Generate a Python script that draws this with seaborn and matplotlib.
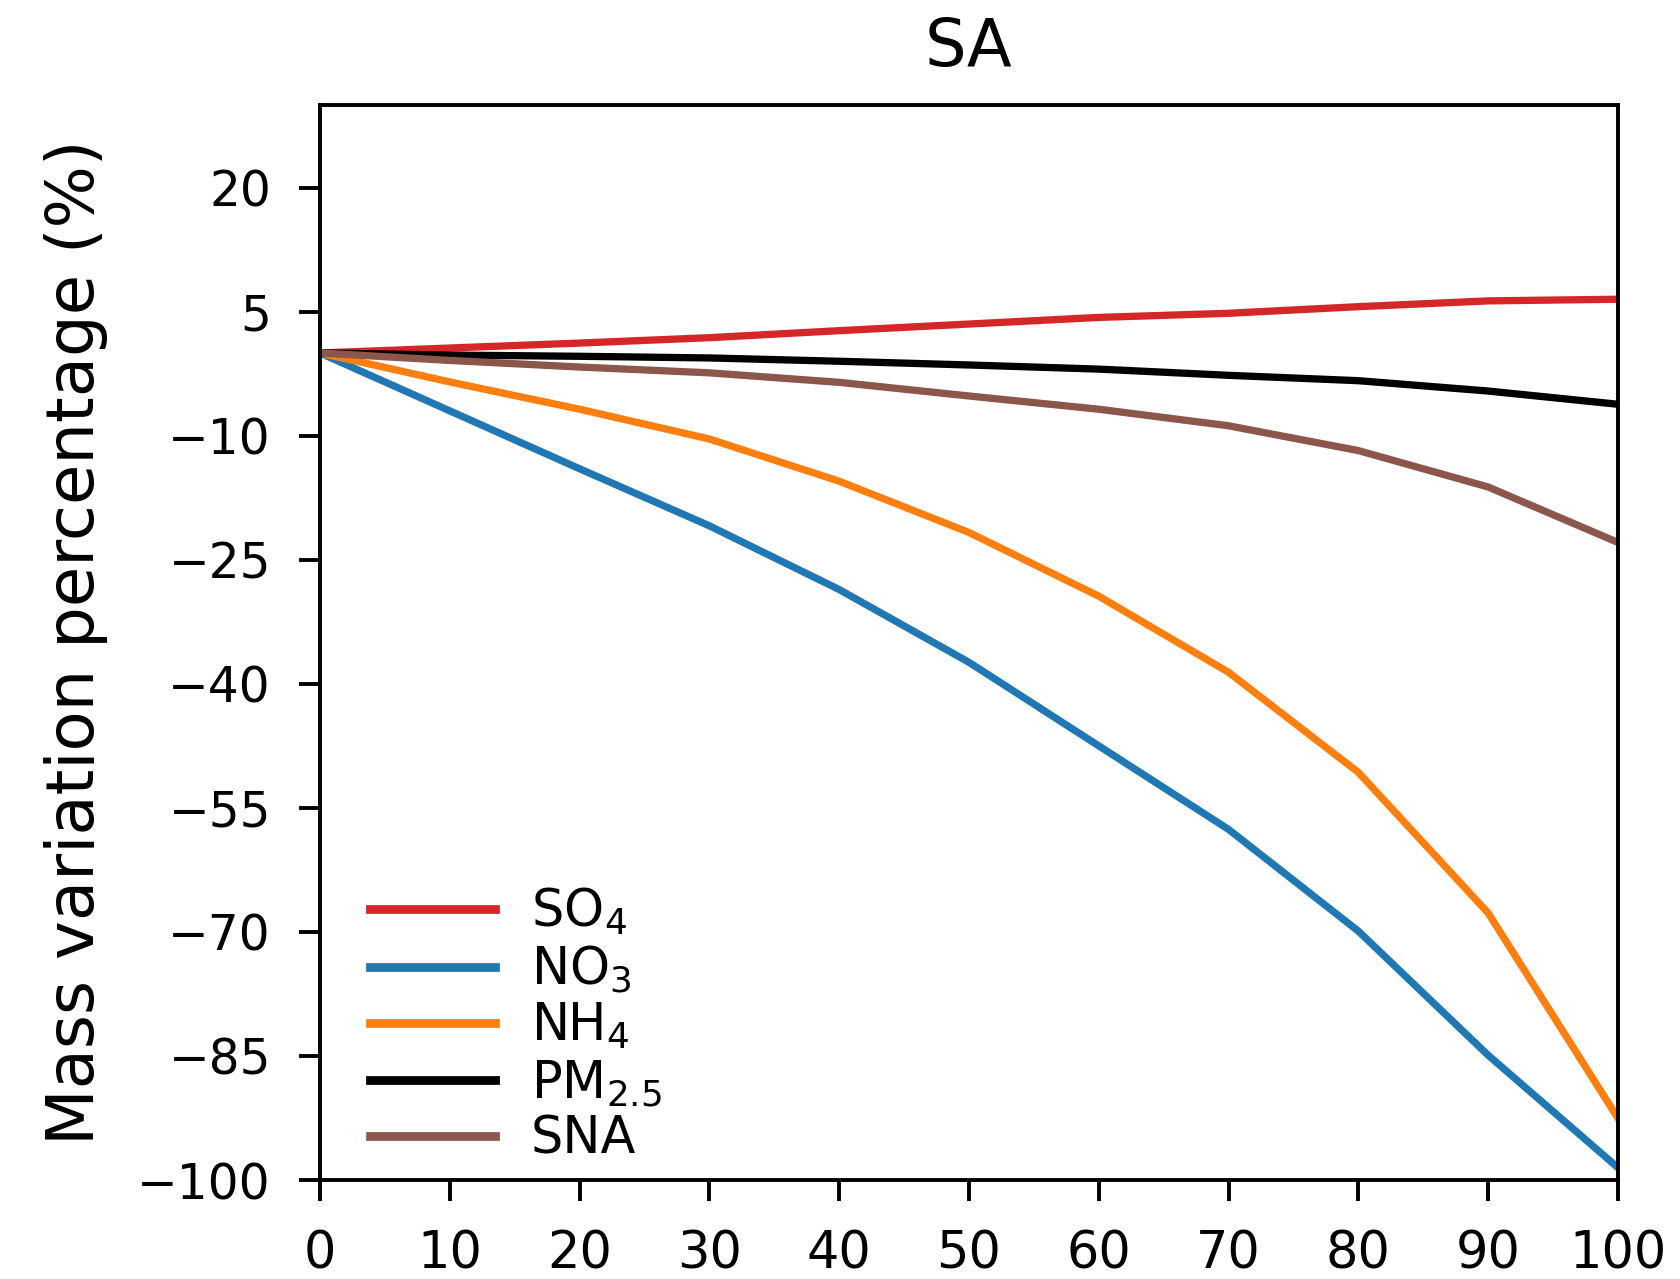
import numpy as np
import pandas as pd
import matplotlib
matplotlib.use("Agg")
import matplotlib.pyplot as plt
import seaborn as sns

# ---- data ----
reduction = [0, 10, 20, 30, 40, 50, 60, 70, 80, 90, 100]
so4 = [0, 0.6, 1.2, 1.85, 2.7, 3.5, 4.3, 4.8, 5.6, 6.3, 6.5]
no3 = [0, -7.0, -14.0, -20.9, -28.6, -37.4, -47.5, -57.6, -69.9, -84.9, -98.5]
nh4 = [0, -3.5, -6.8, -10.4, -15.5, -21.7, -29.4, -38.6, -50.7, -67.7, -92.5]
pm25 = [0, -0.25, -0.4, -0.6, -1.0, -1.45, -1.95, -2.7, -3.35, -4.6, -6.2]
sna = [0, -0.9, -1.7, -2.4, -3.55, -5.2, -6.8, -8.8, -11.8, -16.2, -22.9]

series_names = ["SO$_4$", "NO$_3$", "NH$_4$", "PM$_{2.5}$", "SNA"]
series_values = [so4, no3, nh4, pm25, sna]
colors = ["#d62728", "#1f77b4", "#ff7f0e", "#000000", "#8c564b"]
yticks = [20, 5, -10, -25, -40, -55, -70, -85, -100]
xticks = [0, 10, 20, 30, 40, 50, 60, 70, 80, 90, 100]

df = pd.concat(
    [pd.DataFrame({"x": reduction, "y": v, "species": n})
     for n, v in zip(series_names, series_values)],
    ignore_index=True,
)

plt.rcParams["font.family"] = ["DejaVu Sans"]
plt.rcParams["mathtext.default"] = "regular"

fig = plt.figure(figsize=(4.8, 1279 / 350), dpi=350)
ax = fig.add_axes([0.1905, 0.0774, 0.963 - 0.1905, 0.918 - 0.0774])

sns.lineplot(data=df, x="x", y="y", hue="species", hue_order=series_names,
             palette=colors, linewidth=1.5, ax=ax, sort=False)

ax.set_xlim(0, 100)
ax.set_ylim(-100, 30)
ax.set_xticks(xticks)
ax.set_yticks(yticks)
ax.tick_params(axis="both", width=0.8, length=4.3, pad=5.8)
ax.tick_params(axis="x", labelsize=10.5)
ax.tick_params(axis="y", labelsize=10)
for s in ax.spines.values():
    s.set_linewidth(0.8)
ax.set_xlabel("")
ax.set_ylabel("Mass variation percentage (%)", fontsize=13.5, labelpad=6)
ax.set_title("SA", fontsize=13.5, pad=8)

leg = ax.legend(loc="lower left", bbox_to_anchor=(0.023, -0.005),
                borderaxespad=0, frameon=False, fontsize=10.5,
                handlelength=2.45, handletextpad=0.7, labelspacing=0.12)
for line in leg.get_lines():
    line.set_linewidth(1.8)

fig.savefig("out.png", dpi=350)
